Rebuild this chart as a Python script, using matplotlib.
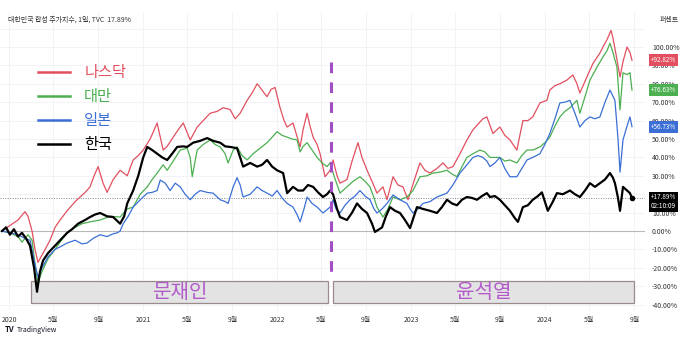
import matplotlib.pyplot as plt
import pandas as pd
from matplotlib.patches import Rectangle

plt.rcParams['font.family'] = ['Noto Sans CJK KR', 'DejaVu Sans']

# time in decimal years, value = % change since start
nasdaq_t = [2019.948, 2020.007, 2020.067, 2020.119, 2020.142, 2020.172, 2020.194, 2020.216, 2020.254, 2020.306,
            2020.343, 2020.381, 2020.433, 2020.493, 2020.530, 2020.567, 2020.604, 2020.634, 2020.664, 2020.701,
            2020.731, 2020.776, 2020.828, 2020.881, 2020.925, 2020.963, 2021.000, 2021.052, 2021.104, 2021.149,
            2021.179, 2021.224, 2021.261, 2021.299, 2021.351, 2021.403, 2021.448, 2021.500, 2021.552, 2021.597,
            2021.649, 2021.687, 2021.724, 2021.776, 2021.813, 2021.851, 2021.873, 2021.903, 2021.925, 2021.955,
            2021.985, 2022.022, 2022.052, 2022.075, 2022.119, 2022.172, 2022.194, 2022.224, 2022.246, 2022.269,
            2022.299, 2022.321, 2022.358, 2022.396, 2022.418, 2022.448, 2022.470, 2022.522, 2022.560, 2022.604,
            2022.634, 2022.672, 2022.709, 2022.746, 2022.791, 2022.821, 2022.866, 2022.903, 2022.940, 2022.978,
            2023.022, 2023.067, 2023.104, 2023.142, 2023.194, 2023.239, 2023.276, 2023.313, 2023.366, 2023.418,
            2023.463, 2023.500, 2023.537, 2023.567, 2023.612, 2023.664, 2023.701, 2023.739, 2023.791, 2023.836,
            2023.873, 2023.910, 2023.963, 2024.015, 2024.037, 2024.075, 2024.112, 2024.164, 2024.209, 2024.239,
            2024.261, 2024.313, 2024.358, 2024.410, 2024.440, 2024.463, 2024.493, 2024.507, 2024.530, 2024.560,
            2024.582, 2024.612, 2024.634, 2024.649]
nasdaq_v = [0, 3, 6, 10.5, 8, 0, -10, -17, -12, -5,
            2, 6, 11, 16, 18.5, 21, 24, 30, 35, 26,
            21, 28, 33, 30, 38.6, 41, 44, 50, 58.7, 44,
            46, 51, 55, 58.7, 49.5, 56.5, 60, 64, 65, 67,
            66, 61, 64, 71, 75, 80, 78, 75, 73, 77,
            78, 67, 60, 56.5, 58.7, 45.7, 55, 64, 57, 51,
            47, 42, 29.5, 33, 38.6, 30, 26, 28, 38, 48,
            40, 33, 27, 20.6, 24, 17, 29.5, 25, 24, 17,
            27, 37, 33, 31.5, 34, 37, 34, 35, 42, 49.5,
            55, 58, 61, 62, 53, 56.5, 52, 49.5, 44, 60,
            60, 62, 69.6, 71, 76.6, 79, 80, 82, 84.8, 80,
            75, 83.7, 91, 96.7, 101, 104, 109, 105, 96, 83.7,
            92, 100, 97, 92.82]

taiwan_t = [2019.948, 2020.007, 2020.067, 2020.097, 2020.142, 2020.172, 2020.194, 2020.216, 2020.246, 2020.291,
            2020.343, 2020.381, 2020.433, 2020.493, 2020.545, 2020.604, 2020.679, 2020.754, 2020.828, 2020.881,
            2020.925, 2020.978, 2021.030, 2021.067, 2021.104, 2021.149, 2021.179, 2021.224, 2021.276, 2021.328,
            2021.351, 2021.366, 2021.403, 2021.448, 2021.500, 2021.537, 2021.575, 2021.612, 2021.634, 2021.672,
            2021.701, 2021.739, 2021.776, 2021.821, 2021.873, 2021.925, 2021.963, 2022.000, 2022.037, 2022.075,
            2022.112, 2022.149, 2022.172, 2022.194, 2022.224, 2022.261, 2022.299, 2022.336, 2022.373, 2022.396,
            2022.425, 2022.470, 2022.522, 2022.567, 2022.619, 2022.657, 2022.694, 2022.724, 2022.746, 2022.791,
            2022.828, 2022.866, 2022.918, 2022.970, 2023.015, 2023.067, 2023.119, 2023.164, 2023.216, 2023.269,
            2023.306, 2023.343, 2023.381, 2023.418, 2023.463, 2023.515, 2023.552, 2023.590, 2023.664, 2023.701,
            2023.739, 2023.791, 2023.828, 2023.866, 2023.910, 2023.963, 2024.000, 2024.037, 2024.075, 2024.112,
            2024.149, 2024.187, 2024.239, 2024.261, 2024.299, 2024.336, 2024.388, 2024.433, 2024.463, 2024.485,
            2024.507, 2024.537, 2024.560, 2024.582, 2024.612, 2024.634, 2024.649]
taiwan_v = [0, -1, -3, -6, -2, -5, -18, -28, -22, -15,
            -10, -6, -1, 2, 4, 5, 6, 8, 7.6, 12,
            13, 20, 24, 28, 31.5, 36, 33, 38, 44, 45,
            40, 29.5, 44, 47, 49.5, 47, 45.7, 42, 37, 44,
            45.7, 41, 38.6, 42, 45, 48, 51, 54, 52, 51,
            50, 49.5, 43, 46, 48, 44, 40, 37, 35, 37,
            30, 20.6, 24, 27, 29.5, 27, 24, 18, 13, 7.6,
            12, 18.5, 17, 18.5, 22, 29.5, 30, 31.5, 32, 33,
            31, 29.5, 35, 40, 42, 44, 43, 40, 40, 38,
            38.6, 37, 41, 44, 44, 45.7, 48, 51, 57, 62,
            65, 67, 71, 64, 73, 82, 89, 94.6, 98, 102,
            97, 89, 65.8, 86, 85, 86, 76.63]

japan_t = [2019.948, 2020.007, 2020.067, 2020.119, 2020.157, 2020.194, 2020.216, 2020.246, 2020.291, 2020.343,
           2020.396, 2020.433, 2020.493, 2020.545, 2020.582, 2020.627, 2020.679, 2020.731, 2020.776, 2020.806,
           2020.828, 2020.851, 2020.888, 2020.925, 2020.978, 2021.030, 2021.067, 2021.104, 2021.127, 2021.164,
           2021.201, 2021.239, 2021.276, 2021.313, 2021.351, 2021.388, 2021.425, 2021.478, 2021.522, 2021.560,
           2021.575, 2021.612, 2021.634, 2021.672, 2021.701, 2021.724, 2021.746, 2021.799, 2021.851, 2021.888,
           2021.925, 2021.963, 2022.000, 2022.037, 2022.075, 2022.119, 2022.149, 2022.172, 2022.201, 2022.224,
           2022.261, 2022.299, 2022.343, 2022.396, 2022.418, 2022.440, 2022.470, 2022.507, 2022.545, 2022.582,
           2022.619, 2022.657, 2022.694, 2022.724, 2022.746, 2022.784, 2022.821, 2022.866, 2022.918, 2022.970,
           2022.993, 2023.015, 2023.052, 2023.090, 2023.142, 2023.194, 2023.269, 2023.313, 2023.366, 2023.418,
           2023.463, 2023.500, 2023.537, 2023.567, 2023.590, 2023.627, 2023.664, 2023.701, 2023.739, 2023.791,
           2023.828, 2023.866, 2023.910, 2023.963, 2024.000, 2024.037, 2024.075, 2024.112, 2024.149, 2024.187,
           2024.224, 2024.261, 2024.299, 2024.336, 2024.373, 2024.410, 2024.448, 2024.485, 2024.522, 2024.545,
           2024.560, 2024.582, 2024.612, 2024.634, 2024.649]
japan_v = [0, -1, -2, -4, -5, -18, -25, -20, -14, -10,
           -8, -6.5, -5, -7, -6.5, -4, -2, -3, -1.5, -1,
           0, 4, 8, 13, 17, 20.6, 21, 22, 27.7, 26,
           22, 26, 24, 20, 17, 20, 22, 21, 20.6, 18,
           17, 16, 15, 24, 29, 25, 18.5, 20, 24, 22,
           20.6, 19, 22, 18, 15, 13, 9, 5, 12, 18.5,
           15, 13, 9.8, 13, 17, 12, 9.8, 14, 17, 19,
           22, 19, 17, 12, 9.8, 12, 15, 19.6, 17, 15,
           12, 9.8, 12, 15, 16, 18.5, 20.6, 25, 31.5, 36,
           40, 41, 40, 38, 35, 37, 40, 34, 29.5, 29.5,
           34, 38.6, 40, 42, 47, 53, 61, 69.6, 70, 71,
           64, 56.5, 60, 62, 61, 62, 70, 76.6, 71, 50,
           32, 49.5, 57, 62, 56.73]

korea_t = [2019.948, 2019.978, 2020.007, 2020.037, 2020.067, 2020.097, 2020.127, 2020.157, 2020.187, 2020.209,
           2020.231, 2020.254, 2020.291, 2020.343, 2020.381, 2020.433, 2020.470, 2020.515, 2020.567, 2020.604,
           2020.642, 2020.679, 2020.731, 2020.776, 2020.828, 2020.858, 2020.881, 2020.925, 2020.963, 2021.000,
           2021.030, 2021.067, 2021.104, 2021.142, 2021.179, 2021.216, 2021.254, 2021.299, 2021.328, 2021.373,
           2021.425, 2021.478, 2021.522, 2021.575, 2021.612, 2021.649, 2021.701, 2021.724, 2021.746, 2021.799,
           2021.851, 2021.888, 2021.925, 2021.963, 2022.000, 2022.045, 2022.075, 2022.119, 2022.157, 2022.194,
           2022.231, 2022.269, 2022.306, 2022.343, 2022.373, 2022.396, 2022.418, 2022.448, 2022.470, 2022.522,
           2022.560, 2022.597, 2022.634, 2022.672, 2022.709, 2022.731, 2022.784, 2022.813, 2022.843, 2022.881,
           2022.918, 2022.955, 2022.993, 2023.022, 2023.045, 2023.090, 2023.142, 2023.194, 2023.231, 2023.269,
           2023.306, 2023.343, 2023.381, 2023.418, 2023.455, 2023.493, 2023.530, 2023.567, 2023.590, 2023.627,
           2023.664, 2023.701, 2023.739, 2023.776, 2023.799, 2023.836, 2023.873, 2023.910, 2023.948, 2023.978,
           2024.000, 2024.022, 2024.060, 2024.090, 2024.134, 2024.187, 2024.224, 2024.261, 2024.299, 2024.336,
           2024.373, 2024.410, 2024.448, 2024.485, 2024.507, 2024.522, 2024.545, 2024.560, 2024.582, 2024.612,
           2024.634, 2024.649]
korea_v = [0, 2, -2, 1, -3, -1, -4, -8, -20, -33,
           -22, -16, -12, -8, -5, -1, 1, 4, 6, 7.6,
           9, 9.8, 8, 7.6, 4, 8, 15, 22, 30, 40,
           45.7, 44, 42, 40, 38.6, 42, 45.7, 46, 45.7, 48,
           49, 50.5, 49, 48, 46, 45.7, 45, 40, 35, 37,
           35, 36, 38.6, 35, 33, 31.5, 20.6, 24, 22, 22,
           25, 24, 21, 18.5, 20, 22, 20, 12, 7.6, 6,
           10, 15, 12, 9.8, 4, -0.5, 2, 8, 13, 11,
           9.8, 6, 1.6, 8, 13, 12, 11, 9.8, 13, 17,
           15, 14, 17, 18.5, 18, 17, 19, 20.6, 18.5, 19,
           17, 14, 11, 7, 5, 13, 14, 17, 19, 21,
           16, 11, 16, 20.6, 20, 22, 20, 18.5, 22, 26,
           24, 26, 28, 31.5, 29, 26, 18, 11, 24, 22,
           20.6, 17.89]

labels = ["나스닥", "대만", "일본", "한국"]
colors = ["#e2505f", "#4caf50", "#3b6fd6", "#000000"]
last_vals = ["+92.82%", "+76.63%", "+56.73%", "+17.89%"]

tick_dates = ["2020-01-01", "2020-05-01", "2020-09-01", "2021-01-01", "2021-05-01", "2021-09-01",
              "2022-01-01", "2022-05-01", "2022-09-01", "2023-01-01", "2023-05-01", "2023-09-01",
              "2024-01-01", "2024-05-01", "2024-09-01"]
tick_labels = ["2020", "5월", "9월", "2021", "5월", "9월", "2022", "5월", "9월",
               "2023", "5월", "9월", "2024", "5월", "9월"]

moon_span = (2020.164, 2022.381)
yoon_span = (2022.418, 2024.664)
inauguration = 2022.40


def to_date(ts):
    out = []
    for t in ts:
        y = int(t)
        a = pd.Timestamp(y, 1, 1)
        b = pd.Timestamp(y + 1, 1, 1)
        out.append(a + (b - a) * (t - y))
    return out


fig = plt.figure(figsize=(6.9, 3.4), dpi=100)
ax = fig.add_axes([0, 30 / 340, 645 / 690, 298 / 340])

series = [(nasdaq_t, nasdaq_v), (taiwan_t, taiwan_v), (japan_t, japan_v), (korea_t, korea_v)]
for (t, v), c, lab in zip(series, colors, labels):
    lw = 1.6 if lab == "한국" else 0.9
    ax.plot(to_date(t), v, color=c, lw=lw, label=lab, zorder=3)
ax.plot(to_date([korea_t[-1]]), [korea_v[-1]], "o", color="black", ms=3, zorder=4)

# grid
for yv in range(-40, 120, 10):
    ax.axhline(yv, color="#f0f1f5", lw=0.6, zorder=0)
for d in tick_dates:
    ax.axvline(pd.Timestamp(d), color="#f0f1f5", lw=0.6, zorder=0)
ax.axhline(0, color="#b8b8b8", lw=0.8, zorder=1)
ax.axhline(korea_v[-1], color="#888888", lw=0.7, ls=(0, (1, 1.5)), zorder=1)

# inauguration line
ax.plot(to_date([inauguration, inauguration]), [92, -22], color="#a24fc4", lw=2.2,
        ls=(0, (3.5, 3)), zorder=5)

# administration boxes
for span, name in [(moon_span, "문재인"), (yoon_span, "윤석열")]:
    d0, d1 = to_date(span)
    ax.add_patch(Rectangle((d0, -38.9), d1 - d0, 12.0, facecolor="#e3e3e3",
                           edgecolor="#9a8c8c", lw=0.9, zorder=2))
    ax.text(d0 + (d1 - d0) / 2, -33.2, name, ha="center", va="center",
            fontsize=14.5, color="#b25ccc", zorder=6)

ax.set_xlim(to_date([2019.933, 2024.746]))
ax.set_ylim(-42.9, 119)
ax.set_xticks([pd.Timestamp(d) for d in tick_dates])
ax.set_xticklabels(tick_labels)
ax.yaxis.tick_right()
yt = list(range(-40, 110, 10))
ax.set_yticks(yt)
ax.set_yticklabels([f"{v:.2f}%" for v in yt])
ax.tick_params(axis="x", length=0, pad=4, labelsize=5, colors="#333333")
ax.tick_params(axis="y", length=0, pad=5, labelsize=5, colors="#333333")
for s in ax.spines.values():
    s.set_visible(False)

# price tags on the right scale
ytr = ax.get_yaxis_transform()
for v, c, txt in zip([92.82, 76.63, 56.73], colors[:3], last_vals[:3]):
    ax.text(1.009, v, txt, transform=ytr, fontsize=4.6, color="white", ha="left", va="center",
            bbox=dict(boxstyle="square,pad=0.3", fc=c, ec="none"), clip_on=False, zorder=7)
ax.text(1.009, 15.9, last_vals[3] + "\n02:10:09", transform=ytr, fontsize=4.6, color="white",
        ha="left", va="center", linespacing=1.1,
        bbox=dict(boxstyle="square,pad=0.3", fc="black", ec="none"), clip_on=False, zorder=7)

# legend
leg = ax.legend(loc="upper left", bbox_to_anchor=(0.05, 0.845), frameon=False, fontsize=11,
                handlelength=2.1, handletextpad=0.9, labelspacing=0.45, borderaxespad=0)
for line in leg.get_lines():
    line.set_linewidth(1.8)
for text, c in zip(leg.get_texts(), colors):
    text.set_color(c)

fig.text(8 / 690, 1 - 20 / 340, "대한민국 합성 주가지수, 1일, TVC  17.89%", fontsize=5,
         color="#333333", va="center")
fig.text(660 / 690, 1 - 20 / 340, "퍼센트", fontsize=5, color="#333333", va="center")
fig.text(5 / 690, 1 - 330 / 340, "TV", fontsize=5.5, fontweight="bold", color="#131722", va="center")
fig.text(17 / 690, 1 - 330 / 340, "TradingView", fontsize=5, color="#131722", va="center")

fig.savefig("out.png", dpi=100, facecolor="white")
